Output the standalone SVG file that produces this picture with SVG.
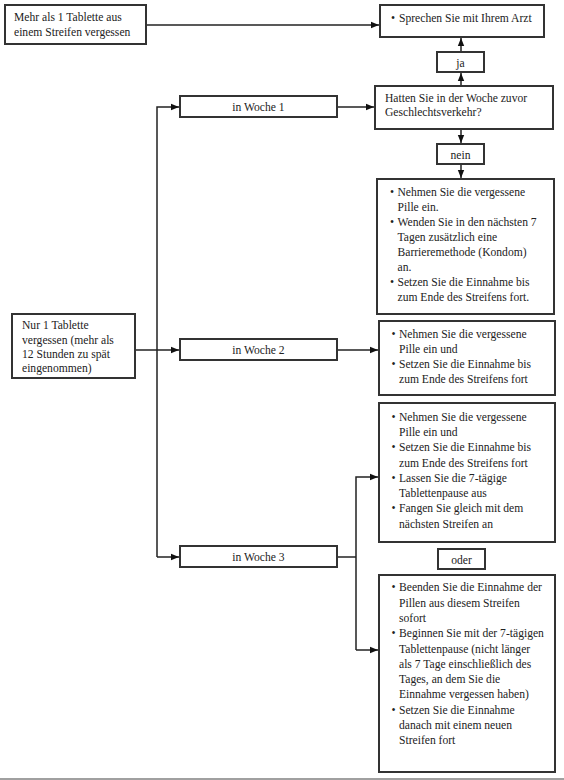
<svg xmlns="http://www.w3.org/2000/svg" width="564" height="780" viewBox="0 0 564 780">
<defs>
<marker id="arr" markerUnits="userSpaceOnUse" markerWidth="8" markerHeight="8" viewBox="0 0 8 8" refX="8" refY="4" orient="auto">
<path d="M0,0.8 L8,4 L0,7.2 Z" fill="#111"/>
</marker>
<style>
.box{fill:#fff;stroke:#333;stroke-width:2}
.t{font-family:"Liberation Serif","DejaVu Serif",serif;font-size:11.6px;fill:#222}
.c{text-anchor:middle}
.ln{fill:none;stroke:#222;stroke-width:1.5}
</style>
</defs>
<rect width="564" height="780" fill="#fff"/>
<g id="connectors">
<path class="ln" d="M146,25 H379" marker-end="url(#arr)"/>
<path class="ln" d="M461,86 V73" marker-end="url(#arr)"/>
<path class="ln" d="M461,52 V38" marker-end="url(#arr)"/>
<path class="ln" d="M461,129 V143" marker-end="url(#arr)"/>
<path class="ln" d="M461,164 V178" marker-end="url(#arr)"/>
<path class="ln" d="M337,107 H374" marker-end="url(#arr)"/>
<path class="ln" d="M157,557 V107 H179" marker-end="url(#arr)"/>
<path class="ln" d="M157,557 H179" marker-end="url(#arr)"/>
<path class="ln" d="M135,350 H179" marker-end="url(#arr)"/>
<path class="ln" d="M337,350 H378" marker-end="url(#arr)"/>
<path class="ln" d="M337,557 H356"/>
<path class="ln" d="M356,650 V477 H378" marker-end="url(#arr)"/>
<path class="ln" d="M356,650 H378" marker-end="url(#arr)"/>
</g>
<g font-family="Liberation Serif, DejaVu Serif, serif">
<g id="mehr">
<rect class="box" x="5" y="5" width="141" height="39"/>
<text class="t" x="14" y="20.5" font-size="11">Mehr als 1 Tablette aus</text>
<text class="t" x="14" y="36" font-size="11">einem Streifen vergessen</text>
</g>
<g id="arzt">
<rect class="box" x="380" y="5" width="164" height="32"/>
<text class="t" x="391" y="22">•</text>
<text class="t" x="399" y="22">Sprechen Sie mit Ihrem Arzt</text>
</g>
<g id="ja">
<rect class="box" x="437" y="52" width="47" height="20"/>
<text class="t c" x="460.5" y="66.5">ja</text>
</g>
<g id="frage">
<rect class="box" x="375" y="86" width="178" height="43"/>
<text class="t" x="385" y="102">Hatten Sie in der Woche zuvor</text>
<text class="t" x="385" y="116">Geschlechtsverkehr?</text>
</g>
<g id="nein">
<rect class="box" x="437" y="144" width="47" height="20"/>
<text class="t c" x="460.5" y="158.5">nein</text>
</g>
<g id="woche1">
<rect class="box" x="180" y="96" width="157" height="21"/>
<text class="t c" x="258.5" y="110.5">in Woche 1</text>
</g>
<g id="aktion1">
<rect class="box" x="377" y="179" width="177" height="135"/>
<text class="t" x="390" y="196">•</text>
<text class="t" x="397.5" y="196">Nehmen Sie die vergessene</text>
<text class="t" x="397.5" y="211">Pille ein.</text>
<text class="t" x="390" y="226">•</text>
<text class="t" x="397.5" y="226">Wenden Sie in den nächsten 7</text>
<text class="t" x="397.5" y="241">Tagen zusätzlich eine</text>
<text class="t" x="397.5" y="256">Barrieremethode (Kondom)</text>
<text class="t" x="397.5" y="271">an.</text>
<text class="t" x="390" y="286">•</text>
<text class="t" x="397.5" y="286">Setzen Sie die Einnahme bis</text>
<text class="t" x="397.5" y="301">zum Ende des Streifens fort.</text>
</g>
<g id="nur1">
<rect class="box" x="12" y="314" width="123" height="64"/>
<text class="t" x="22" y="329">Nur 1 Tablette</text>
<text class="t" x="22" y="343.5">vergessen (mehr als</text>
<text class="t" x="22" y="358">12 Stunden zu spät</text>
<text class="t" x="22" y="372">eingenommen)</text>
</g>
<g id="woche2">
<rect class="box" x="180" y="339" width="157" height="21"/>
<text class="t c" x="258.5" y="353.5">in Woche 2</text>
</g>
<g id="aktion2">
<rect class="box" x="379" y="321" width="176" height="74"/>
<text class="t" x="391.5" y="337.5">•</text>
<text class="t" x="399" y="337.5">Nehmen Sie die vergessene</text>
<text class="t" x="399" y="352.5">Pille ein und</text>
<text class="t" x="391.5" y="367.5">•</text>
<text class="t" x="399" y="367.5">Setzen Sie die Einnahme bis</text>
<text class="t" x="399" y="382.5">zum Ende des Streifens fort</text>
</g>
<g id="aktion3a">
<rect class="box" x="379" y="403" width="176" height="139"/>
<text class="t" x="391.5" y="421">•</text>
<text class="t" x="399" y="421">Nehmen Sie die vergessene</text>
<text class="t" x="399" y="436">Pille ein und</text>
<text class="t" x="391.5" y="451">•</text>
<text class="t" x="399" y="451">Setzen Sie die Einnahme bis</text>
<text class="t" x="399" y="466.5">zum Ende des Streifens fort</text>
<text class="t" x="391.5" y="481.5">•</text>
<text class="t" x="399" y="481.5">Lassen Sie die 7-tägige</text>
<text class="t" x="399" y="497">Tablettenpause aus</text>
<text class="t" x="391.5" y="512">•</text>
<text class="t" x="399" y="512">Fangen Sie gleich mit dem</text>
<text class="t" x="399" y="527.5">nächsten Streifen an</text>
</g>
<g id="oder">
<rect class="box" x="438" y="549" width="47" height="20"/>
<text class="t c" x="461.5" y="563.5">oder</text>
</g>
<g id="woche3">
<rect class="box" x="180" y="546" width="157" height="21"/>
<text class="t c" x="258.5" y="560.5">in Woche 3</text>
</g>
<g id="aktion3b">
<rect class="box" x="379" y="575" width="176" height="197"/>
<text class="t" x="391.5" y="591">•</text>
<text class="t" x="399" y="591">Beenden Sie die Einnahme der</text>
<text class="t" x="399" y="606.5">Pillen aus diesem Streifen</text>
<text class="t" x="399" y="622">sofort</text>
<text class="t" x="391.5" y="637">•</text>
<text class="t" x="399" y="637">Beginnen Sie mit der 7-tägigen</text>
<text class="t" x="399" y="652.5">Tablettenpause (nicht länger</text>
<text class="t" x="399" y="668">als 7 Tage einschließlich des</text>
<text class="t" x="399" y="683">Tages, an dem Sie die</text>
<text class="t" x="399" y="698">Einnahme vergessen haben)</text>
<text class="t" x="391.5" y="713.5">•</text>
<text class="t" x="399" y="713.5">Setzen Sie die Einnahme</text>
<text class="t" x="399" y="729">danach mit einem neuen</text>
<text class="t" x="399" y="744">Streifen fort</text>
</g>
</g>
<line x1="0" y1="779" x2="564" y2="779" stroke="#a0a0a0" stroke-width="2"/>
</svg>
